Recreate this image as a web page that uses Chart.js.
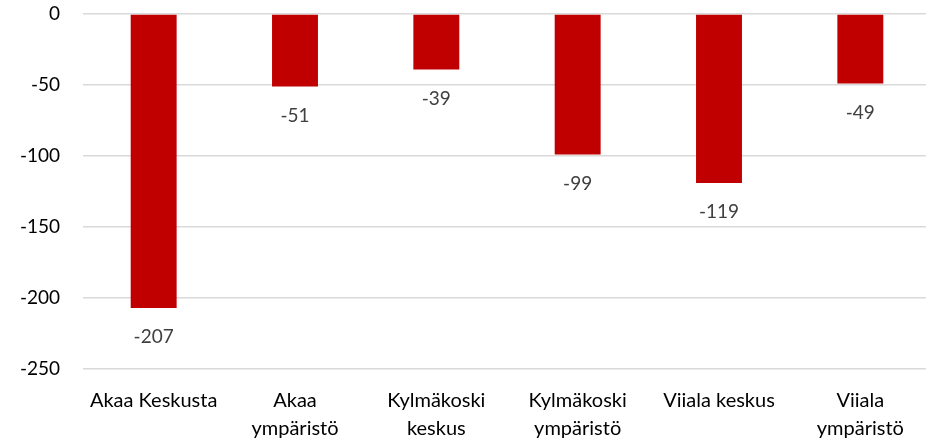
<!DOCTYPE html>
<html>
<head>
<meta charset="utf-8">
<script src="https://cdn.jsdelivr.net/npm/chart.js@4/dist/chart.umd.min.js"></script>
<style>
  html, body { margin: 0; padding: 0; background: #fff; overflow: hidden; }
  #wrap { width: 931px; height: 443px; position: relative; }
</style>
</head>
<body>
<div id="wrap"><canvas id="chart"></canvas></div>
<script>
// ─── Data ────────────────────────────────────────────────────────────────────
const categories = [
  'Akaa Keskusta',
  ['Akaa', 'ympäristö'],
  ['Kylmäkoski', 'keskus'],
  ['Kylmäkoski', 'ympäristö'],
  'Viiala keskus',
  ['Viiala', 'ympäristö'],
];
const values = [-207, -51, -39, -99, -119, -49];
const yTicks = [0, -50, -100, -150, -200, -250];

const FONT = 'Lato, "Open Sans", sans-serif';

// value labels under each bar end
const barLabels = {
  id: 'barLabels',
  afterDatasetsDraw(c) {
    const ctx = c.ctx;
    const meta = c.getDatasetMeta(0);
    ctx.save();
    ctx.font = '19px ' + FONT;
    ctx.fillStyle = '#404040';
    ctx.textAlign = 'center';
    ctx.textBaseline = 'middle';
    meta.data.forEach((bar, i) => {
      ctx.fillText(String(values[i]), bar.x, bar.y + 29);
    });
    ctx.restore();
  },
};

new Chart(document.getElementById('chart'), {
  type: 'bar',
  data: {
    labels: categories,
    datasets: [{
      data: values,
      backgroundColor: '#C00000',
      borderWidth: 0,
      barPercentage: 0.325,
      categoryPercentage: 1,
    }],
  },
  plugins: [barLabels],
  options: {
    responsive: true,
    maintainAspectRatio: false,
    animation: false,
    layout: { padding: { top: 14, right: 0, left: 0, bottom: 0 } },
    plugins: { legend: { display: false }, tooltip: { enabled: false } },
    scales: {
      x: {
        grid: { display: false },
        border: { display: false },
        ticks: { color: '#000', font: { size: 20, family: FONT, lineHeight: 1.4 }, padding: 10, maxRotation: 0, autoSkip: false },
        afterFit: s => { s.height = 74; },
      },
      y: {
        min: -250, max: 0,
        grid: { color: '#d9d9d9', lineWidth: 1.5, drawTicks: false },
        border: { display: false },
        afterBuildTicks: s => { s.ticks = yTicks.map(v => ({ value: v })); },
        ticks: { color: '#000', font: { size: 19, family: FONT }, padding: 23 },
        afterFit: s => { s.width = 83; s.paddingTop = 0; s.paddingBottom = 0; },
      },
    },
  },
});
</script>
</body>
</html>
